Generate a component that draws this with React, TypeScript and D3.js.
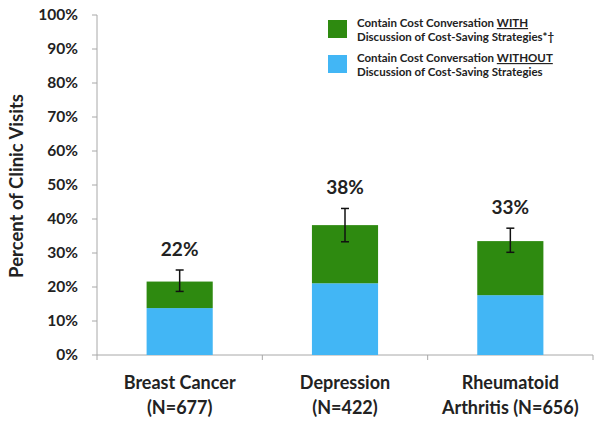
import React from "react";
import * as d3 from "d3";

const categories = ["Breast Cancer|(N=677)", "Depression|(N=422)", "Rheumatoid|Arthritis (N=656)"];
const withoutStrategies = [13.8, 21.1, 17.6];
const withStrategies = [7.8, 17.1, 15.9];
const totalLabels = ["22%", "38%", "33%"];
const errLow = [18.7, 33.3, 30.2];
const errHigh = [25.0, 43.1, 37.3];
const yTicks = [0, 10, 20, 30, 40, 50, 60, 70, 80, 90, 100];
const legendItems = [
  { pre: "Contain Cost Conversation ", u: "WITH", line2: "Discussion of Cost-Saving Strategies*†", color: "#2e8a10" },
  { pre: "Contain Cost Conversation ", u: "WITHOUT", line2: "Discussion of Cost-Saving Strategies", color: "#42b6f5" },
];

const W = 600, H = 428;
const left = 97, right = 593, top = 15, bottom = 355;
const font = "Lato, 'Open Sans', sans-serif";
const textColor = "#222";

export default function App() {
  const x = d3.scaleBand().domain(categories).range([left, right]).paddingInner(0.6).paddingOuter(0.3);
  const y = d3.scaleLinear().domain([0, 100]).range([bottom, top]);
  const bw = x.bandwidth();
  const boundaries = d3.range(categories.length + 1).map((i) => left + ((right - left) / categories.length) * i);
  return (
    <svg width={W} height={H} style={{ position: "absolute", left: 0, top: 0, background: "#fff" }} fontFamily={font}>
      {/* axes */}
      <line x1={left} x2={left} y1={top} y2={bottom} stroke="#a8a8a8" />
      <line x1={left} x2={right} y1={bottom} y2={bottom} stroke="#a8a8a8" />
      {yTicks.map((t) => (
        <g key={t}>
          <line x1={left - 5} x2={left} y1={y(t)} y2={y(t)} stroke="#a8a8a8" />
          <text x={78} y={y(t)} dy="0.35em" textAnchor="end" fontSize={15.5} fontWeight="bold" fill={textColor}>
            {t}%
          </text>
        </g>
      ))}
      {boundaries.map((b, i) => (
        <line key={i} x1={b} x2={b} y1={bottom} y2={bottom + 5} stroke="#a8a8a8" />
      ))}
      <text transform={`translate(17,186) rotate(-90)`} textAnchor="middle" dy="0.35em" fontSize={18.5} fontWeight="bold" fill={textColor}>
        Percent of Clinic Visits
      </text>
      {/* bars */}
      {categories.map((c, i) => {
        const x0 = x(c)!;
        const cx = x0 + bw / 2;
        const total = withoutStrategies[i] + withStrategies[i];
        const lines = c.split("|");
        return (
          <g key={c}>
            <rect x={x0} width={bw} y={y(withoutStrategies[i])} height={y(0) - y(withoutStrategies[i])} fill={legendItems[1].color} />
            <rect x={x0} width={bw} y={y(total)} height={y(withoutStrategies[i]) - y(total)} fill={legendItems[0].color} />
            <line x1={cx} x2={cx} y1={y(errLow[i])} y2={y(errHigh[i])} stroke="#111" strokeWidth={1.5} />
            <line x1={cx - 4} x2={cx + 4} y1={y(errLow[i])} y2={y(errLow[i])} stroke="#111" strokeWidth={1.5} />
            <line x1={cx - 4} x2={cx + 4} y1={y(errHigh[i])} y2={y(errHigh[i])} stroke="#111" strokeWidth={1.5} />
            <text x={cx} y={y(errHigh[i]) - 14} textAnchor="middle" fontSize={19} fontWeight="bold" fill={textColor}>
              {totalLabels[i]}
            </text>
            {lines.map((l, j) => (
              <text key={j} x={cx} y={383 + j * 25} dy="0.35em" textAnchor="middle" fontSize={18} fontWeight="bold" fill={textColor}>
                {l}
              </text>
            ))}
          </g>
        );
      })}
      {/* legend */}
      {legendItems.map((it, i) => {
        const ly = 20 + i * 35;
        return (
          <g key={i}>
            <rect x={328} y={ly} width={19} height={18} fill={it.color} />
            <text x={357} y={ly + 3} dy="0.35em" fontSize={11.5} fontWeight="bold" fill={textColor}>
              {it.pre}
              <tspan textDecoration="underline" style={{ textDecoration: "underline" }}>{it.u}</tspan>
            </text>
            <text x={357} y={ly + 17} dy="0.35em" fontSize={11.5} fontWeight="bold" fill={textColor}>
              {it.line2}
            </text>
          </g>
        );
      })}
    </svg>
  );
}
